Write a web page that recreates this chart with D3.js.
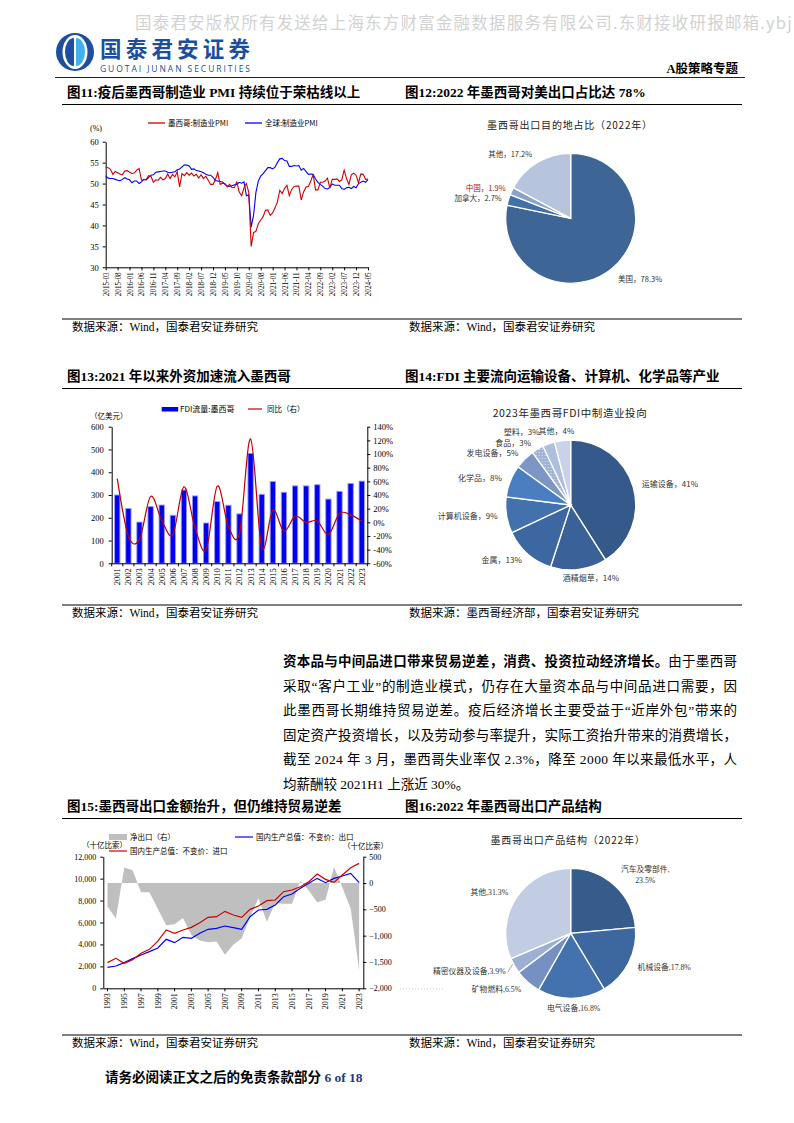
<!DOCTYPE html>
<html><head><meta charset="utf-8">
<script src="https://cdn.jsdelivr.net/npm/d3@7"></script>
<style>
body{margin:0;background:#fff;}
</style></head><body>
<svg id="page" width="794" height="1123" xmlns="http://www.w3.org/2000/svg"></svg>
<script>
// ===================== DATA =====================
// Fig 11: PMI (monthly 2015-03 .. 2024-05)
const pmiTickLabels = ["2015-03","2015-08","2016-01","2016-06","2016-11","2017-04","2017-09","2018-02","2018-07","2018-12","2019-05","2019-10","2020-03","2020-08","2021-01","2021-06","2021-11","2022-04","2022-09","2023-02","2023-07","2023-12","2024-05"];
const pmiSeriesNames = ["墨西哥:制造业PMI","全球:制造业PMI"];
const pmiYTicks = [30,35,40,45,50,55,60];
const mexicoPMI = [
 53.9,53.8,53.4,52.2,52.9,52.6,52.3,52.1,53.0,53.1,
 52.7,52.4,52.5,53.2,53.6,50.8,50.9,51.0,51.9,51.7,50.3,50.9,
 50.8,51.5,50.9,51.2,52.3,51.2,52.2,51.6,52.8,49.2,52.4,51.9,
 52.6,52.0,52.5,51.8,52.2,51.3,52.1,51.2,51.7,50.8,49.8,49.8,
 50.9,52.6,49.8,50.1,50.0,49.2,49.8,49.0,49.1,50.4,48.0,47.1,
 49.0,50.0,47.9,35.0,38.3,38.6,40.4,41.3,42.1,43.6,43.7,42.4,
 43.0,44.2,45.6,48.4,47.6,48.8,49.6,47.1,48.6,49.3,49.4,49.4,
 46.1,48.0,49.2,49.3,50.6,52.2,48.5,48.5,50.3,50.3,50.6,51.3,
 48.9,51.0,51.0,51.1,50.5,50.9,53.2,51.2,49.8,52.1,52.5,52.0,
 50.2,52.3,52.2,51.0,51.1];
const globalPMI = [
 51.8,51.3,51.2,51.2,51.0,50.8,50.7,51.0,51.4,51.1,
 50.9,50.2,50.6,50.6,50.0,50.4,51.0,50.9,51.5,52.0,52.1,52.7,
 52.8,52.9,53.0,53.0,52.7,52.6,52.7,52.8,53.3,53.5,54.0,54.5,
 54.4,54.2,53.4,53.5,53.1,53.0,52.8,52.6,52.2,52.0,52.0,51.5,
 50.7,50.6,50.5,50.4,49.8,49.4,49.3,49.5,49.7,49.8,50.3,50.1,
 50.4,47.1,47.3,39.6,42.4,47.9,50.6,51.8,52.4,53.1,53.8,53.8,
 53.5,53.9,55.0,55.9,56.0,55.5,55.4,54.1,54.1,54.3,54.2,54.3,
 53.2,53.6,52.9,52.2,52.3,52.2,51.1,50.3,49.8,49.4,48.8,48.7,
 49.1,49.9,49.6,49.6,49.6,48.8,48.6,49.0,49.1,48.8,49.3,49.0,
 50.0,50.3,50.6,50.3,51.0];

// Fig 12: export destinations 2022
const destNames = ["美国","加拿大","中国","其他"];
const destShares = [78.3,2.7,1.9,17.2];

// Fig 13: FDI
const fdiYears = ["2001","2002","2003","2004","2005","2006","2007","2008","2009","2010","2011","2012","2013","2014","2015","2016","2017","2018","2019","2020","2021","2022","2023"];
const fdiFlow = [300,241,181,249,256,211,322,296,177,271,255,217,483,303,359,312,340,340,345,282,316,351,361];
const fdiYoY = [64,-20,-25,38,3,-18,52,-8,-40,53,-6,-16,122,-37,18,-13,9,0,2,-18,13,11,2];
const fdiLeftTicks = [0,100,200,300,400,500,600];
const fdiRightTicks = [-60,-40,-20,0,20,40,60,80,100,120,140];
const fdiSeriesNames = ["FDI流量:墨西哥","同比（右）"];

// Fig 14: FDI manufacturing sectors 2023
const sectorNames = ["运输设备","酒精烟草","金属","计算机设备","化学品","发电设备","食品","塑料","其他"];
const sectorShares = [41,14,13,9,8,5,3,3,4];

// Fig 15: trade (billion pesos)
const tradeYears = ["1993","1994","1995","1996","1997","1998","1999","2000","2001","2002","2003","2004","2005","2006","2007","2008","2009","2010","2011","2012","2013","2014","2015","2016","2017","2018","2019","2020","2021","2022","2023"];
const tradeYearLabels = ["1993","1995","1997","1999","2001","2003","2005","2007","2009","2011","2013","2015","2017","2019","2021","2023"];
const netExports = [-444,-675,294,244,-175,-175,-488,-800,-781,-663,-988,-1094,-1125,-1113,-1363,-1175,-1050,-644,-288,-738,-381,-394,-394,44,-144,-363,-319,306,-81,-488,-1650];
const exportsReal = [1914,2035,2339,2704,3038,3342,3676,4466,4162,4648,4557,5013,5377,5469,5681,5529,5377,6532,7139,7200,7595,8355,8598,9114,9570,10025,9630,10025,10238,10481,9630];
const importsReal = [2339,2734,2278,2612,3190,3554,4300,5317,5013,5317,5560,5985,6471,6532,7018,6684,6471,7200,7504,7990,8051,8810,8962,9266,9722,10420,9934,9661,10329,10998,11393];
const tradeLeftTicks = [0,2000,4000,6000,8000,10000,12000];
const tradeRightTicks = [-2000,-1500,-1000,-500,0,500];
const tradeSeriesNames = ["净出口（右）","国内生产总值：不变价：出口","国内生产总值：不变价：进口"];

// Fig 16: export product structure 2022
const productNames = ["汽车及零部件","机械设备","电气设备","矿物燃料","精密仪器及设备","其他"];
const productShares = [23.5,17.8,16.8,6.5,3.9,31.3];

// ===================== DRAWING =====================
const svg = d3.select("#page");
const CJK = "'Noto Sans CJK SC','Noto Sans',sans-serif";
const SERIF = "'Liberation Serif','Times New Roman','Noto Sans CJK SC',serif";

function txt(g, x, y, s, size, opts={}) {
  const t = g.append("text").attr("x",x).attr("y",y).text(s)
    .style("font-family", opts.font || SERIF).style("font-size", size+"px")
    .attr("fill", opts.fill || "#000");
  if (opts.anchor) t.attr("text-anchor", opts.anchor);
  if (opts.weight) t.style("font-weight", opts.weight);
  if (opts.ls) t.style("letter-spacing", opts.ls+"px");
  if (opts.len) t.attr("textLength", opts.len).attr("lengthAdjust","spacing");
  return t;
}
function styleAxis(g, size) {
  g.attr("font-family", null).attr("font-size", null);
  g.selectAll("text").style("font-family", SERIF).style("font-size", size+"px").attr("fill","#000");
  g.selectAll("line").attr("stroke","#000");
  g.select(".domain").attr("stroke","#000");
}

// ---------- Header ----------
txt(svg, 135, 29, "国泰君安版权所有发送给上海东方财富金融数据服务有限公司.东财接收研报邮箱.ybji", 16.5, {font: CJK, fill:"#d2d2d2", ls:1.2});
const logo = svg.append("g").attr("transform","translate(75,52)");
logo.append("circle").attr("r",19).attr("fill","#1d4f9e");
logo.append("ellipse").attr("rx",12.5).attr("ry",17).attr("fill","#fff");
logo.append("path").attr("d","M-1,-14 A9,14 0 0 0 -1,14 Z").attr("fill","#1d4f9e");
logo.append("path").attr("d","M1,-14 A9,14 0 0 1 1,14 Z").attr("fill","#41b0ee");
txt(svg, 100, 56.5, "国泰君安证券", 21.5, {font: CJK, weight: 700, fill:"#1b4f9c", len:150});
txt(svg, 100, 72, "GUOTAI JUNAN SECURITIES", 8.5, {font:"'Open Sans','Liberation Sans',sans-serif", fill:"#1b4f9c", len:150});
txt(svg, 738, 73, "A股策略专题", 12.5, {weight:700, anchor:"end"});
svg.append("line").attr("x1",55).attr("x2",745).attr("y1",77.5).attr("y2",77.5).attr("stroke","#222").attr("stroke-width",1);

// section helpers
function titleRow(y, left, right) {
  txt(svg, 67, y, left, 13.5, {weight:700});
  txt(svg, 405, y, right, 13.5, {weight:700});
  svg.append("line").attr("x1",62).attr("x2",742).attr("y1",y+7.5).attr("y2",y+7.5).attr("stroke","#000").attr("stroke-width",1.2);
}
function sourceRow(y, left, right) {
  svg.append("line").attr("x1",62).attr("x2",742).attr("y1",y-12).attr("y2",y-12).attr("stroke","#000").attr("stroke-width",1.2);
  txt(svg, 72, y, left, 11.5);
  txt(svg, 409, y, right, 11.5);
}
titleRow(97, "图11:疫后墨西哥制造业 PMI 持续位于荣枯线以上", "图12:2022 年墨西哥对美出口占比达 78%");
sourceRow(331, "数据来源：Wind，国泰君安证券研究", "数据来源：Wind，国泰君安证券研究");
titleRow(381, "图13:2021 年以来外资加速流入墨西哥", "图14:FDI 主要流向运输设备、计算机、化学品等产业");
sourceRow(617, "数据来源：Wind，国泰君安证券研究", "数据来源：墨西哥经济部，国泰君安证券研究");
titleRow(811, "图15:墨西哥出口金额抬升，但仍维持贸易逆差", "图16:2022 年墨西哥出口产品结构");
sourceRow(1047, "数据来源：Wind，国泰君安证券研究", "数据来源：Wind，国泰君安证券研究");

// ---------- Fig 11 ----------
{
  const g = svg.append("g");
  const x = d3.scaleLinear().domain([0, mexicoPMI.length-1]).range([105.7, 368]);
  const y = d3.scaleLinear().domain([30,60]).range([267.3, 141.7]);
  g.append("g").attr("transform","translate(105.7,0)")
    .call(d3.axisLeft(y).tickValues(pmiYTicks).tickSize(3).tickSizeOuter(0).tickPadding(4))
    .call(a=>styleAxis(a, 8.5));
  const xa = g.append("g").attr("transform","translate(0,267.3)")
    .call(d3.axisBottom(x).tickValues(pmiTickLabels.map((d,i)=>i*5)).tickFormat((d,i)=>pmiTickLabels[i]).tickSize(3).tickSizeOuter(0))
    .call(a=>styleAxis(a, 7.2));
  xa.selectAll(".tick text").attr("transform","rotate(-90)").attr("text-anchor","end").attr("x",-5).attr("y",0).attr("dy","0.35em");
  const line = d3.line().x((d,i)=>x(i)).y(d=>y(d));
  g.append("path").datum(globalPMI).attr("d",line).attr("fill","none").attr("stroke","#0000ff").attr("stroke-width",1.1);
  g.append("path").datum(mexicoPMI).attr("d",line).attr("fill","none").attr("stroke","#d00000").attr("stroke-width",1.1);
  // legend
  const lg = [{c:"#d00000", x:148}, {c:"#0000ff", x:245}];
  lg.forEach((l,i)=>{
    g.append("line").attr("x1",l.x).attr("x2",l.x+17).attr("y1",123).attr("y2",123).attr("stroke",l.c).attr("stroke-width",1.3);
    txt(g, l.x+20, 125.8, pmiSeriesNames[i], 7.5, {font: CJK});
  });
  txt(g, 90, 131, "(%)", 8);
}

// ---------- pie helper ----------
function drawPie(cx, cy, r, names, vals, colors, o) {
  const g = svg.append("g").attr("transform",`translate(${cx},${cy})`);
  const arcs = d3.pie().sort(null).value(d=>d)(vals);
  const arc = d3.arc().innerRadius(0).outerRadius(r);
  g.selectAll("path.sl").data(arcs).join("path").attr("class","sl").attr("d",arc)
    .attr("fill",(d,i)=>colors[i]).attr("stroke","#fff").attr("stroke-width",1.3);
  arcs.forEach((d,i)=>{
    const a = (d.startAngle+d.endAngle)/2;
    const s = Math.sin(a), c = -Math.cos(a);
    const off = (o.offsets && o.offsets[i]) || [0,0];
    const lx = o.labelR*s + off[0], ly = o.labelR*c + off[1];
    const anchor = s > 0.3 ? "start" : (s < -0.3 ? "end" : "middle");
    const label = names[i] + o.sep + d3.format(o.fmt)(vals[i]) + "%";
    const fill = (o.labelColors && o.labelColors[i]) || "#333";
    if (o.twoLine && o.twoLine.includes(i)) {
      const t = g.append("text").attr("text-anchor","middle").style("font-family",o.font).style("font-size",o.size+"px").attr("fill",fill);
      t.append("tspan").attr("x",lx).attr("y",ly-2).text(names[i]+o.sep.trim());
      t.append("tspan").attr("x",lx).attr("y",ly+9).text(d3.format(o.fmt)(vals[i])+"%");
    } else {
      txt(g, lx, ly + o.size*0.36, label, o.size, {font:o.font, anchor, fill});
    }
  });
  return g;
}

// ---------- Fig 12 ----------
txt(svg, 570, 128.5, "墨西哥出口目的地占比（2022年）", 10, {font: CJK, anchor:"middle", ls:0.8, fill:"#222"});
drawPie(570.7, 218.3, 65, destNames, destShares, ["#3d6595","#4470a8","#8aa2cc","#b6c4dd"],
  {labelR:75, sep:"，", fmt:".1f", font:CJK, size:7.5, labelColors:[null,null,"#b01010",null], offsets:[[0,3],[3,1],[3,1],[0,0]]});

// ---------- Fig 13 ----------
{
  const g = svg.append("g");
  const x0 = 111.7, x1 = 367.3, yTop = 426.7, yBot = 563.3;
  const xb = d3.scaleBand().domain(fdiYears).range([x0, x1]).padding(0);
  const yl = d3.scaleLinear().domain([0,600]).range([yBot, yTop]);
  const yr = d3.scaleLinear().domain([-60,140]).range([yBot, yTop]);
  const bw = xb.bandwidth()*0.48;
  g.selectAll("rect.b").data(fdiFlow).join("rect").attr("class","b")
    .attr("x",(d,i)=>xb(fdiYears[i]) + xb.bandwidth()/2 - bw/2).attr("width",bw)
    .attr("y",d=>yl(d)).attr("height",d=>yBot-yl(d))
    .attr("fill","#0000f0").attr("stroke","#9a9aff").attr("stroke-width",0.9);
  g.append("g").attr("transform",`translate(${x0},0)`)
    .call(d3.axisLeft(yl).tickValues(fdiLeftTicks).tickSize(3).tickSizeOuter(0).tickPadding(5))
    .call(a=>styleAxis(a, 8.5));
  g.append("g").attr("transform",`translate(${x1},0)`)
    .call(d3.axisRight(yr).tickValues(fdiRightTicks).tickFormat(d=>d+"%").tickSize(3).tickSizeOuter(0).tickPadding(3))
    .call(a=>styleAxis(a, 8.5));
  const xa = g.append("g").attr("transform",`translate(0,${yBot})`)
    .call(d3.axisBottom(xb).tickSize(0).tickSizeOuter(0))
    .call(a=>styleAxis(a, 8.5));
  xa.selectAll(".tick text").attr("transform","rotate(-90)").attr("text-anchor","end").attr("x",-5).attr("y",0).attr("dy","0.35em");
  g.selectAll("line.bt").data(d3.range(fdiYears.length+1)).join("line").attr("class","bt")
    .attr("x1",i=>x0+i*xb.step()).attr("x2",i=>x0+i*xb.step()).attr("y1",yBot).attr("y2",yBot+3).attr("stroke","#000");
  const line = d3.line().x((d,i)=>xb(fdiYears[i])+xb.bandwidth()/2).y(d=>yr(d)).curve(d3.curveCardinal.tension(0));
  g.append("path").datum(fdiYoY).attr("d",line).attr("fill","none").attr("stroke","#c00000").attr("stroke-width",1.2);
  // legend
  g.append("rect").attr("x",161.7).attr("y",407).attr("width",16.5).attr("height",4.5).attr("fill","#0000f0");
  txt(g, 180, 412, fdiSeriesNames[0], 8, {font:CJK});
  g.append("line").attr("x1",248).attr("x2",262).attr("y1",409).attr("y2",409).attr("stroke","#c00000").attr("stroke-width",1.2);
  txt(g, 267, 412, fdiSeriesNames[1], 7.5, {font:CJK});
  txt(g, 90, 418.5, "（亿美元）", 7.5, {font:CJK});
}

// ---------- Fig 14 ----------
{
  const defs = svg.append("defs");
  const p = defs.append("pattern").attr("id","dots").attr("width",3).attr("height",3).attr("patternUnits","userSpaceOnUse");
  p.append("rect").attr("width",3).attr("height",3).attr("fill","#9fb2d7");
  p.append("circle").attr("cx",1.5).attr("cy",1.5).attr("r",0.6).attr("fill","#e6ecf6");
  txt(svg, 570, 416.5, "2023年墨西哥FDI中制造业投向", 10.5, {font:CJK, anchor:"middle", ls:0.6, fill:"#222"});
  drawPie(570.7, 505, 65, sectorNames, sectorShares,
    ["#34598a","#3a6298","#3d67a0","#4371ae","#4b7ec0","#7c97c6","url(#dots)","#adbede","#c8d3e9"],
    {labelR:74, sep:"，", fmt:"d", font:CJK, size:8, offsets:[[0,0],[11,0],[0,0],[0,0],[0,0],[0,0],[-2,1.5],[-6,-3],[-5,0]]});
}

// ---------- Paragraph ----------
{
  const px = 283, pw = 454, lh = 24.6, y0 = 666;
  const bold1 = "资本品与中间品进口带来贸易逆差，消费、投资拉动经济增长。";
  const norm1 = "由于墨西哥";
  const w1 = pw*28/33;
  txt(svg, px, y0, bold1, 13.5, {weight:700, len:w1});
  txt(svg, px+w1, y0, norm1, 13.5, {len:pw-w1});
  const lines = [
    "采取“客户工业”的制造业模式，仍存在大量资本品与中间品进口需要，因",
    "此墨西哥长期维持贸易逆差。疫后经济增长主要受益于“近岸外包”带来的",
    "固定资产投资增长，以及劳动参与率提升，实际工资抬升带来的消费增长，",
    "截至 2024 年 3 月，墨西哥失业率仅 2.3%，降至 2000 年以来最低水平，人"
  ];
  lines.forEach((l,i)=> txt(svg, px, y0+lh*(i+1), l, 13.5, {len:pw}));
  txt(svg, px, y0+lh*5, "均薪酬较 2021H1 上涨近 30%。", 13.5);
}

// ---------- Fig 15 ----------
{
  const g = svg.append("g");
  const x0 = 103.3, x1 = 363.3, yTop = 856.7, yBot = 988.3;
  const xb = d3.scaleBand().domain(tradeYears).range([x0, x1]).padding(0);
  const cx = d => xb(d) + xb.bandwidth()/2;
  const yl = d3.scaleLinear().domain([0,12000]).range([yBot, yTop]);
  const yr = d3.scaleLinear().domain([-2000,500]).range([yBot, yTop]);
  const area = d3.area().x((d,i)=>cx(tradeYears[i])).y0(yr(0)).y1(d=>yr(d));
  g.append("path").datum(netExports).attr("d",area).attr("fill","#bfbfbf");
  const line = d3.line().x((d,i)=>cx(tradeYears[i])).y(d=>yl(d));
  g.append("path").datum(exportsReal).attr("d",line).attr("fill","none").attr("stroke","#0000ff").attr("stroke-width",1.2);
  g.append("path").datum(importsReal).attr("d",line).attr("fill","none").attr("stroke","#cc0000").attr("stroke-width",1.2);
  g.append("g").attr("transform",`translate(${x0},0)`)
    .call(d3.axisLeft(yl).tickValues(tradeLeftTicks).tickFormat(d3.format(",")).tickSize(3).tickSizeOuter(0).tickPadding(4))
    .call(a=>styleAxis(a, 8));
  g.append("g").attr("transform",`translate(${x1},0)`)
    .call(d3.axisRight(yr).tickValues(tradeRightTicks).tickFormat(d3.format(",")).tickSize(3).tickSizeOuter(0).tickPadding(3))
    .call(a=>styleAxis(a, 8));
  const xa = g.append("g").attr("transform",`translate(0,${yBot})`)
    .call(d3.axisBottom(xb).tickValues(tradeYearLabels).tickSize(3).tickSizeOuter(0))
    .call(a=>styleAxis(a, 8));
  xa.selectAll(".tick text").attr("transform","rotate(-90)").attr("text-anchor","end").attr("x",-5).attr("y",0).attr("dy","0.35em");
  // legend
  g.append("rect").attr("x",109).attr("y",834).attr("width",18).attr("height",6).attr("fill","#bfbfbf");
  txt(g, 130, 839.5, tradeSeriesNames[0], 7.5, {font:CJK});
  g.append("line").attr("x1",235).attr("x2",253).attr("y1",837).attr("y2",837).attr("stroke","#0000ff").attr("stroke-width",1.2);
  txt(g, 256, 839.5, tradeSeriesNames[1], 7.5, {font:CJK});
  g.append("line").attr("x1",109).attr("x2",127).attr("y1",851).attr("y2",851).attr("stroke","#cc0000").attr("stroke-width",1.2);
  txt(g, 130, 853.5, tradeSeriesNames[2], 7.5, {font:CJK});
  txt(g, 82, 848, "（十亿比索）", 7.5, {font:CJK});
  txt(g, 343, 849, "（十亿比索）", 7.5, {font:CJK});
}

// ---------- Fig 16 ----------
{
  txt(svg, 568, 843.5, "墨西哥出口产品结构（2022年）", 10, {font:CJK, anchor:"middle", ls:0.8, fill:"#222"});
  const g = drawPie(570.7, 933.3, 65, productNames, productShares,
    ["#365c8c","#3d679f","#4472af","#7590c1","#9db0d4","#c2cde3"],
    {labelR:75, sep:",", fmt:".1f", font:SERIF, size:7.8, twoLine:[0], offsets:[[24,-4],[0,0],[2,0],[0,0],[0,0],[0,0]]});
  // leader line for small slice label
  g.append("line").attr("x1",-63).attr("y1",39).attr("x2",-58).attr("y2",31).attr("stroke","#666").attr("stroke-width",0.6);
  svg.append("line").attr("x1",400).attr("x2",443).attr("y1",989).attr("y2",989).attr("stroke","#ccc").attr("stroke-dasharray","1,2");
}

// ---------- Footer ----------
{
  const t = svg.append("text").attr("x",105).attr("y",1082).style("font-family",SERIF).style("font-size","13.5px").style("font-weight",700);
  t.append("tspan").text("请务必阅读正文之后的免责条款部分 ");
  t.append("tspan").attr("fill","#1f3b7a").text("6 of 18");
}
</script>
</body></html>
